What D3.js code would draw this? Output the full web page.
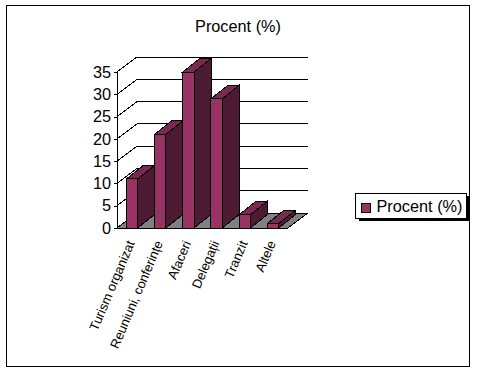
<!DOCTYPE html>
<html>
<head>
<meta charset="utf-8">
<script src="https://cdn.jsdelivr.net/npm/d3@7"></script>
<style>
  html, body { margin: 0; padding: 0; background: #fff; }
  svg { display: block; }
  text { font-family: "Liberation Sans", Arial, sans-serif; fill: #000; }
  line, path, rect { shape-rendering: crispEdges; }
</style>
</head>
<body>
<svg id="chart" width="478" height="371"></svg>
<script>
const categories = ["Turism organizat", "Reuniuni, conferințe", "Afaceri", "Delegații", "Tranzit", "Altele"];
const values = [11, 21, 35, 29, 3, 1];
const yTicks = [0, 5, 10, 15, 20, 25, 30, 35];
const seriesName = "Procent (%)";

const svg = d3.select("#chart");

// chart frame
svg.append("rect")
  .attr("x", 6.5).attr("y", 5.5)
  .attr("width", 463).attr("height", 361)
  .attr("fill", "#fff").attr("stroke", "#000");

svg.append("text")
  .attr("x", 238).attr("y", 32)
  .attr("text-anchor", "middle")
  .style("font-size", "16.3px")
  .text(seriesName);

const x = d3.scaleBand().domain(categories).range([117, 288]).paddingInner(0.6).paddingOuter(0.33);
const y = d3.scaleLinear().domain([0, 35]).range([228, 72]);

// wall depth and bar depth
const wallDx = 20, wallDy = -15;
const barDx = 17, barDy = -13.5;

const plot = svg.append("g");

// floor
plot.append("path")
  .attr("d", d3.line()([
    [x.range()[0], y(0)],
    [x.range()[0] + wallDx, y(0) + wallDy],
    [x.range()[1] + wallDx, y(0) + wallDy],
    [x.range()[1], y(0)]
  ]) + "Z")
  .attr("fill", "#808080")
  .attr("stroke", "#000");

// gridlines on the side and back wall
yTicks.forEach(function (t) {
  if (t > 0) {
    plot.append("line")
      .attr("x1", x.range()[0]).attr("y1", y(t))
      .attr("x2", x.range()[0] + wallDx).attr("y2", y(t) + wallDy)
      .attr("stroke", "#000");
  }
  plot.append("line")
    .attr("x1", x.range()[0] + wallDx).attr("y1", y(t) + wallDy)
    .attr("x2", x.range()[1] + wallDx).attr("y2", y(t) + wallDy)
    .attr("stroke", "#000");
});

// bars
const bars = plot.selectAll("g.bar")
  .data(categories.map((c, i) => ({ name: c, value: values[i] })))
  .join("g")
  .attr("class", "bar");

bars.append("path") // side
  .attr("d", function (d) {
    const r = x(d.name) + x.bandwidth();
    return d3.line()([[r, y(d.value)], [r + barDx, y(d.value) + barDy], [r + barDx, y(0) + barDy], [r, y(0)]]) + "Z";
  })
  .attr("fill", "#4c1a33").attr("stroke", "#000");

bars.append("path") // top
  .attr("d", function (d) {
    const l = x(d.name), r = l + x.bandwidth();
    return d3.line()([[l, y(d.value)], [l + barDx, y(d.value) + barDy], [r + barDx, y(d.value) + barDy], [r, y(d.value)]]) + "Z";
  })
  .attr("fill", "#7a2952").attr("stroke", "#000");

bars.append("rect") // front
  .attr("x", (d) => x(d.name))
  .attr("y", (d) => y(d.value))
  .attr("width", x.bandwidth())
  .attr("height", (d) => y(0) - y(d.value))
  .attr("fill", "#993366").attr("stroke", "#000");

// y axis
const axisY = svg.append("g")
  .attr("transform", `translate(${x.range()[0]},0)`)
  .call(d3.axisLeft(y).tickValues(yTicks).tickSizeOuter(0).tickSize(3).tickPadding(3));
axisY.selectAll("text").style("font-size", "16.3px");
axisY.selectAll("line, path").attr("stroke", "#000");

// x axis baseline and category labels
svg.append("line")
  .attr("x1", x.range()[0]).attr("y1", y(0))
  .attr("x2", x.range()[1]).attr("y2", y(0))
  .attr("stroke", "#000");

svg.selectAll("text.cat")
  .data(categories)
  .join("text")
  .attr("class", "cat")
  .attr("text-anchor", "end")
  .attr("transform", (d) => `translate(${x(d) + x.bandwidth() / 2 + 3},${y(0) + 15}) rotate(-67)`)
  .style("font-size", "13px")
  .text((d) => d);

// legend
const legend = svg.append("g");
legend.append("rect").attr("x", 359).attr("y", 196).attr("width", 111).attr("height", 25).attr("fill", "#000");
legend.append("rect").attr("x", 355.5).attr("y", 193.5).attr("width", 111).attr("height", 25).attr("fill", "#fff").attr("stroke", "#000");
legend.append("rect").attr("x", 361.5).attr("y", 203).attr("width", 9).attr("height", 9).attr("fill", "#993366").attr("stroke", "#000");
legend.append("text").attr("x", 376.5).attr("y", 212).style("font-size", "16.3px").text(seriesName);
</script>
</body>
</html>
